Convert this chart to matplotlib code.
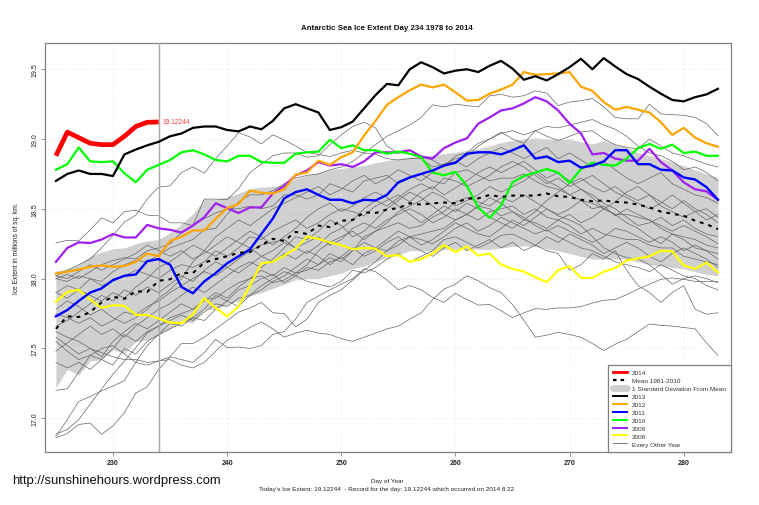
import matplotlib
matplotlib.use('Agg')
import matplotlib.pyplot as plt
from matplotlib.lines import Line2D
import numpy as np

plt.rcParams['font.family'] = ['Liberation Sans', 'DejaVu Sans']

days = np.arange(225, 284)
days_2014 = np.arange(225, 235)

ice_2014 = [18.88, 19.05, 19.01, 18.97, 18.96, 18.96, 19.02, 19.09, 19.12, 19.12244]

ice_2013 = [18.70, 18.75, 18.775, 18.75, 18.75, 18.735, 18.89, 18.925, 18.955, 18.98,
            19.02, 19.04, 19.08, 19.09, 19.09, 19.065, 19.055, 19.09, 19.07, 19.13,
            19.22, 19.25, 19.22, 19.19, 19.065, 19.085, 19.125, 19.22, 19.315, 19.395,
            19.385, 19.50, 19.55, 19.515, 19.47, 19.49, 19.50, 19.48, 19.525, 19.56,
            19.505, 19.425, 19.45, 19.42, 19.465, 19.515, 19.575, 19.50, 19.58, 19.52,
            19.465, 19.43, 19.375, 19.325, 19.28, 19.27, 19.30, 19.32, 19.36]
ice_2012 = [18.036, 18.05, 18.065, 18.085, 18.095, 18.085, 18.09, 18.12, 18.18, 18.16,
            18.27, 18.30, 18.345, 18.345, 18.43, 18.505, 18.535, 18.63, 18.615, 18.61,
            18.64, 18.745, 18.76, 18.845, 18.815, 18.87, 18.905, 19.025, 19.13, 19.245,
            19.30, 19.35, 19.39, 19.37, 19.39, 19.335, 19.275, 19.28, 19.325, 19.355,
            19.39, 19.48, 19.46, 19.465, 19.47, 19.48, 19.375, 19.345, 19.265, 19.21,
            19.23, 19.21, 19.19, 19.12, 19.03, 19.08, 19.01, 18.97, 18.945]
ice_2011 = [17.73, 17.775, 17.84, 17.90, 17.93, 17.99, 18.02, 18.03, 18.125, 18.14,
            18.10, 17.94, 17.895, 17.98, 18.04, 18.11, 18.16, 18.21, 18.32, 18.43,
            18.575, 18.62, 18.64, 18.60, 18.565, 18.565, 18.54, 18.565, 18.56, 18.60,
            18.69, 18.725, 18.75, 18.775, 18.81, 18.83, 18.895, 18.905, 18.905, 18.89,
            18.92, 18.955, 18.86, 18.875, 18.835, 18.845, 18.795, 18.81, 18.84, 18.92,
            18.92, 18.82, 18.82, 18.78, 18.775, 18.725, 18.71, 18.655, 18.565]
ice_2010 = [18.78, 18.82, 18.94, 18.84, 18.835, 18.84, 18.755, 18.69, 18.78, 18.815,
            18.85, 18.905, 18.92, 18.89, 18.85, 18.84, 18.88, 18.88, 18.835, 18.83,
            18.83, 18.895, 18.905, 18.91, 18.995, 18.935, 18.955, 18.92, 18.92, 18.895,
            18.91, 18.895, 18.87, 18.76, 18.74, 18.765, 18.665, 18.51, 18.435, 18.525,
            18.69, 18.735, 18.76, 18.785, 18.76, 18.685, 18.785, 18.83, 18.815, 18.81,
            18.86, 18.935, 18.965, 18.93, 18.96, 18.90, 18.91, 18.88, 18.88]
ice_2009 = [18.12, 18.22, 18.26, 18.255, 18.28, 18.32, 18.295, 18.295, 18.385, 18.36,
            18.35, 18.33, 18.38, 18.44, 18.54, 18.505, 18.47, 18.51, 18.51, 18.61,
            18.665, 18.74, 18.775, 18.835, 18.81, 18.82, 18.80, 18.84, 18.905, 18.905,
            18.905, 18.92, 18.875, 18.86, 18.935, 18.975, 19.005, 19.11, 19.155, 19.205,
            19.22, 19.255, 19.30, 19.27, 19.205, 19.11, 19.04, 18.89, 18.90, 18.86,
            18.845, 18.845, 18.93, 18.835, 18.775, 18.69, 18.64, 18.625, 18.565]
ice_2008 = [17.835, 17.905, 17.92, 17.85, 17.79, 17.81, 17.805, 17.74, 17.74, 17.715,
            17.685, 17.68, 17.745, 17.86, 17.79, 17.73, 17.80, 17.95, 18.11, 18.12,
            18.165, 18.215, 18.30, 18.285, 18.26, 18.24, 18.21, 18.22, 18.215, 18.16,
            18.17, 18.12, 18.14, 18.18, 18.24, 18.19, 18.23, 18.165, 18.18, 18.10,
            18.07, 18.05, 18.01, 17.975, 18.06, 18.09, 18.005, 18.005, 18.05, 18.075,
            18.13, 18.145, 18.16, 18.20, 18.195, 18.095, 18.07, 18.115, 18.045]
mean_ice = [17.64, 17.73, 17.725, 17.76, 17.83, 17.87, 17.855, 17.91, 17.905, 17.985,
            17.995, 18.04, 18.04, 18.115, 18.14, 18.16, 18.185, 18.19, 18.24, 18.285,
            18.27, 18.335, 18.32, 18.38, 18.37, 18.415, 18.42, 18.475, 18.47, 18.495,
            18.505, 18.54, 18.53, 18.54, 18.545, 18.54, 18.575, 18.575, 18.60, 18.585,
            18.595, 18.595, 18.595, 18.61, 18.59, 18.585, 18.565, 18.555, 18.56, 18.55,
            18.545, 18.53, 18.51, 18.48, 18.465, 18.45, 18.415, 18.39, 18.355]
band_upper = [18.055, 18.07, 18.10, 18.16, 18.19, 18.215, 18.22, 18.25, 18.27, 18.28,
              18.33, 18.39, 18.465, 18.57, 18.57, 18.585, 18.61, 18.645, 18.655, 18.66,
              18.67, 18.715, 18.74, 18.76, 18.78, 18.79, 18.80, 18.81, 18.83, 18.845,
              18.86, 18.87, 18.88, 18.885, 18.895, 18.905, 18.92, 18.93, 18.95, 18.975,
              18.99, 19.0, 19.01, 19.0, 19.0, 19.0, 18.98, 18.965, 18.99, 18.96,
              18.94, 18.905, 18.88, 18.86, 18.835, 18.81, 18.78, 18.75, 18.725]
band_lower = [17.22, 17.35, 17.31, 17.41, 17.42, 17.49, 17.465, 17.55, 17.56, 17.595,
              17.64, 17.70, 17.68, 17.78, 17.78, 17.815, 17.84, 17.875, 17.90, 17.93,
              17.96, 17.99, 18.0, 18.0, 18.02, 18.04, 18.07, 18.09, 18.12, 18.15,
              18.17, 18.20, 18.20, 18.20, 18.21, 18.21, 18.21, 18.21, 18.21, 18.22,
              18.23, 18.235, 18.23, 18.215, 18.20, 18.18, 18.16, 18.14, 18.14, 18.14,
              18.14, 18.12, 18.10, 18.09, 18.08, 18.07, 18.05, 18.03, 18.02]

year_a = [18.255, 18.275, 18.27, 18.35, 18.435, 18.40, 18.48, 18.49, 18.455, 18.45,
          18.40, 18.40, 18.38, 18.43, 18.47, 18.50, 18.50, 18.52, 18.50, 18.52,
          18.60, 18.60, 18.57, 18.60, 18.68, 18.65, 18.62, 18.70, 18.72, 18.74,
          18.68, 18.72, 18.75, 18.70, 18.68, 18.76, 18.78, 18.74, 18.70, 18.72,
          18.72, 18.75, 18.70, 18.66, 18.64, 18.60, 18.56, 18.54, 18.50, 18.46,
          18.46, 18.44, 18.42, 18.36, 18.32, 18.30, 18.28, 18.24, 18.22]
year_b = [18.02, 18.06, 18.10, 18.14, 18.22, 18.31, 18.405, 18.455, 18.57, 18.655,
          18.665, 18.76, 18.80, 18.755, 18.86, 18.95, 19.045, 19.015, 18.965, 19.03,
          18.995, 18.95, 18.905, 18.89, 18.875, 18.90, 18.92, 18.90, 18.89, 18.86,
          18.85, 18.86, 18.86, 18.80, 18.82, 18.86, 18.88, 18.95, 19.0, 19.04,
          19.06, 19.03, 19.06, 19.02, 18.99, 19.02, 19.05, 19.06, 19.0, 18.96,
          18.94, 18.93, 19.0, 18.95, 18.9, 18.88, 18.85, 18.82, 18.80]
year_c = [18.0, 18.03, 18.0, 18.05, 18.1, 18.13, 18.15, 18.14, 18.2, 18.22,
          18.25, 18.33, 18.38, 18.57, 18.57, 18.565, 18.645, 18.76, 18.82, 18.88,
          18.90, 18.90, 18.87, 18.88, 18.96, 19.03, 19.09, 19.12, 19.08, 18.95,
          18.90, 18.92, 18.87, 18.85, 18.80, 18.88, 18.90, 18.97, 19.0, 19.05,
          19.0, 18.97, 19.06, 19.09, 19.08, 19.1, 19.12, 19.14, 19.1, 19.07,
          19.02, 18.95, 18.9, 18.88, 18.84, 18.78, 18.8, 18.76, 18.7]
year_d = [17.9, 17.95, 17.92, 18.0, 17.98, 18.05, 18.1, 18.13, 18.12, 18.17,
          18.22, 18.25, 18.28, 18.35, 18.36, 18.46, 18.55, 18.60, 18.60, 18.63,
          18.68, 18.72, 18.74, 18.75, 18.78, 18.80, 18.84, 18.90, 18.96, 19.02,
          19.06, 19.10, 19.155, 19.245, 19.23, 19.25, 19.24, 19.23, 19.31, 19.32,
          19.30, 19.31, 19.345, 19.33, 19.24, 19.265, 19.275, 19.29, 19.23, 19.155,
          19.145, 19.145, 19.25, 19.18, 19.175, 19.17, 19.155, 19.11, 19.025]
year_e = [16.86, 16.89, 16.955, 16.965, 16.885, 16.945, 17.04, 17.18, 17.225, 17.35,
          17.44, 17.535, 17.535, 17.58, 17.64, 17.70, 17.76, 17.79, 17.83, 17.755,
          17.75, 17.655, 17.71, 17.83, 17.88, 17.92, 17.99, 18.06, 18.12, 18.2,
          18.27, 18.3, 18.32, 18.34, 18.36, 18.42, 18.46, 18.52, 18.5, 18.45,
          18.48, 18.42, 18.4, 18.36, 18.42, 18.38, 18.32, 18.36, 18.32, 18.3,
          18.28, 18.28, 18.24, 18.22, 18.22, 18.16, 18.14, 18.12, 18.1]
year_f = [16.87, 16.99, 17.12, 17.155, 17.195, 17.23, 17.27, 17.40, 17.52, 17.60,
          17.64, 17.68, 17.72, 17.78, 17.88, 17.84, 17.92, 17.95, 18.0, 18.03,
          17.97, 18.02, 17.98, 17.96, 17.94, 17.98, 18.06, 18.04, 18.08, 18.14,
          18.18, 18.12, 18.16, 18.2, 18.28, 18.3, 18.26, 18.22, 18.26, 18.31,
          18.32, 18.28, 18.24, 18.2, 18.18, 18.06, 18.1, 18.18, 18.14, 18.2,
          18.06, 17.95, 17.90, 17.83, 17.90, 17.95, 17.78, 17.745, 17.755]
year_g = [16.885, 16.92, 16.99, 17.10, 17.21, 17.315, 17.41, 17.505, 17.61, 17.66,
          17.72, 17.75, 17.78, 17.85, 17.86, 17.92, 17.97, 18.0, 18.02, 17.97,
          17.99, 18.04, 18.06, 18.1, 18.15, 18.12, 18.2, 18.3, 18.34, 18.37,
          18.4, 18.36, 18.38, 18.44, 18.48, 18.55, 18.58, 18.55, 18.52, 18.58,
          18.55, 18.6, 18.55, 18.5, 18.45, 18.42, 18.38, 18.3, 18.22, 18.18,
          18.15, 18.14, 18.1, 18.03, 17.96, 18.0, 18.02, 18.0, 17.97]
year_h = [17.20, 17.21, 17.33, 17.45, 17.42, 17.5, 17.6, 17.55, 17.62, 17.66,
          17.7, 17.74, 17.7, 17.76, 17.82, 17.8, 17.86, 17.88, 17.95, 18.0,
          18.05, 18.02, 18.08, 18.06, 18.12, 18.15, 18.1, 18.18, 18.22, 18.2,
          18.24, 18.3, 18.28, 18.25, 18.3, 18.36, 18.4, 18.34, 18.38, 18.44,
          18.4, 18.36, 18.32, 18.35, 18.3, 18.26, 18.22, 18.2, 18.16, 18.12,
          18.1, 18.08, 18.05, 18.1, 18.06, 18.02, 18.0, 17.95, 17.92]
year_i = [17.55, 17.48, 17.42, 17.45, 17.5, 17.52, 17.46, 17.40, 17.38, 17.41,
          17.44, 17.42, 17.40, 17.47, 17.565, 17.505, 17.51, 17.50, 17.52, 17.60,
          17.62, 17.71, 17.83, 17.875, 17.92, 17.96, 18.0, 18.07, 18.05, 17.99,
          17.92, 17.95, 17.92, 17.865, 17.83, 17.895, 17.85, 17.81, 17.815, 17.77,
          17.72, 17.755, 17.785, 17.78, 17.79, 17.79, 17.80, 17.825, 17.845, 17.85,
          17.885, 17.925, 17.96, 17.995, 18.005, 17.995, 17.98, 17.98, 17.98]
year_j = [17.62, 17.58, 17.55, 17.5, 17.47, 17.44, 17.42, 17.42, 17.40, 17.41,
          17.42, 17.38, 17.36, 17.4, 17.48, 17.56, 17.6, 17.65, 17.69, 17.64,
          17.58, 17.61, 17.63, 17.61, 17.60, 17.57, 17.55, 17.58, 17.61, 17.64,
          17.66, 17.71, 17.755, 17.85, 17.925, 17.96, 18.02, 17.985, 17.935, 17.90,
          17.815, 17.70, 17.58, 17.595, 17.615, 17.60, 17.58, 17.535, 17.485, 17.53,
          17.565, 17.62, 17.675, 17.665, 17.66, 17.65, 17.64, 17.54, 17.45]
year_k = [18.0, 17.98, 18.02, 18.0, 17.95, 17.98, 18.02, 18.06, 18.03, 18.0,
          18.06, 18.1, 18.08, 18.12, 18.2, 18.16, 18.22, 18.3, 18.28, 18.34,
          18.38, 18.42, 18.36, 18.4, 18.46, 18.5, 18.48, 18.45, 18.52, 18.56,
          18.6, 18.55, 18.62, 18.66, 18.6, 18.65, 18.7, 18.76, 18.8, 18.76,
          18.8, 18.84, 18.78, 18.72, 18.76, 18.7, 18.64, 18.58, 18.5, 18.46,
          18.4, 18.36, 18.3, 18.25, 18.32, 18.28, 18.22, 18.2, 18.14]
year_l = [17.75, 17.72, 17.68, 17.72, 17.66, 17.7, 17.76, 17.74, 17.8, 17.84,
          17.9, 17.95, 18.0, 18.05, 18.02, 18.08, 18.14, 18.2, 18.24, 18.26,
          18.28, 18.22, 18.26, 18.3, 18.24, 18.28, 18.36, 18.4, 18.36, 18.42,
          18.46, 18.5, 18.46, 18.4, 18.44, 18.5, 18.46, 18.42, 18.48, 18.5,
          18.52, 18.46, 18.5, 18.44, 18.42, 18.46, 18.4, 18.44, 18.5, 18.55,
          18.62, 18.66, 18.6, 18.55, 18.5, 18.56, 18.5, 18.46, 18.4]
year_m = [17.4, 17.36, 17.4, 17.35, 17.42, 17.38, 17.5, 17.46, 17.55, 17.6,
          17.68, 17.66, 17.72, 17.7, 17.78, 17.84, 17.8, 17.88, 17.92, 17.98,
          18.02, 18.08, 18.14, 18.1, 18.18, 18.14, 18.2, 18.26, 18.22, 18.28,
          18.34, 18.3, 18.24, 18.28, 18.34, 18.4, 18.36, 18.32, 18.3, 18.36,
          18.42, 18.38, 18.44, 18.5, 18.46, 18.5, 18.56, 18.5, 18.52, 18.45,
          18.5, 18.46, 18.42, 18.38, 18.34, 18.38, 18.34, 18.3, 18.25]
year_n = [17.9, 17.86, 17.92, 17.88, 17.84, 17.9, 17.86, 17.94, 18.0, 18.08,
          18.12, 18.18, 18.24, 18.2, 18.3, 18.36, 18.42, 18.38, 18.44, 18.5,
          18.54, 18.58, 18.62, 18.66, 18.6, 18.64, 18.7, 18.74, 18.68, 18.72,
          18.78, 18.74, 18.7, 18.76, 18.82, 18.84, 18.8, 18.86, 18.9, 18.94,
          18.9, 18.86, 18.9, 18.94, 18.86, 18.9, 18.85, 18.8, 18.84, 18.78,
          18.72, 18.68, 18.72, 18.76, 18.68, 18.64, 18.6, 18.58, 18.54]
year_o = [18.02, 18.0, 18.05, 18.1, 18.06, 18.1, 18.14, 18.18, 18.24, 18.2,
          18.16, 18.2, 18.14, 18.18, 18.24, 18.3, 18.26, 18.22, 18.16, 18.12,
          18.18, 18.14, 18.2, 18.16, 18.1, 18.16, 18.22, 18.16, 18.2, 18.26,
          18.3, 18.24, 18.2, 18.16, 18.22, 18.26, 18.2, 18.24, 18.28, 18.22,
          18.26, 18.2, 18.24, 18.3, 18.26, 18.32, 18.28, 18.24, 18.18, 18.22,
          18.26, 18.22, 18.16, 18.12, 18.18, 18.22, 18.18, 18.14, 18.08]
year_p = [17.58, 17.52, 17.46, 17.5, 17.44, 17.55, 17.62, 17.68, 17.64, 17.7,
          17.76, 17.82, 17.78, 17.84, 17.9, 17.86, 17.94, 18.0, 18.06, 18.02,
          18.08, 18.04, 18.1, 18.2, 18.26, 18.3, 18.34, 18.28, 18.34, 18.4,
          18.48, 18.52, 18.56, 18.62, 18.58, 18.52, 18.56, 18.6, 18.66, 18.62,
          18.66, 18.7, 18.76, 18.7, 18.66, 18.6, 18.64, 18.6, 18.54, 18.5,
          18.44, 18.38, 18.4, 18.44, 18.38, 18.42, 18.36, 18.32, 18.3]
year_q = [17.78, 17.84, 17.8, 17.74, 17.78, 17.72, 17.68, 17.72, 17.78, 17.86,
          17.92, 18.0, 18.12, 18.2, 18.16, 18.22, 18.28, 18.34, 18.3, 18.24,
          18.3, 18.36, 18.44, 18.5, 18.54, 18.48, 18.52, 18.58, 18.62, 18.58,
          18.52, 18.46, 18.4, 18.46, 18.52, 18.48, 18.54, 18.5, 18.44, 18.4,
          18.36, 18.42, 18.48, 18.56, 18.62, 18.68, 18.72, 18.66, 18.62, 18.66,
          18.6, 18.56, 18.6, 18.52, 18.48, 18.44, 18.48, 18.42, 18.46]
year_r = [17.48, 17.54, 17.6, 17.66, 17.6, 17.64, 17.58, 17.66, 17.72, 17.78,
          17.82, 17.88, 17.94, 17.9, 17.96, 18.02, 18.08, 18.12, 18.08, 18.14,
          18.22, 18.3, 18.28, 18.34, 18.42, 18.38, 18.3, 18.34, 18.42, 18.5,
          18.56, 18.62, 18.58, 18.52, 18.46, 18.42, 18.46, 18.52, 18.58, 18.54,
          18.48, 18.44, 18.38, 18.34, 18.38, 18.34, 18.3, 18.26, 18.3, 18.36,
          18.34, 18.3, 18.26, 18.3, 18.26, 18.2, 18.24, 18.2, 18.18]
year_s = [17.66, 17.7, 17.76, 17.82, 17.88, 17.84, 17.92, 17.88, 17.94, 17.9,
          17.96, 18.02, 17.98, 18.06, 18.12, 18.08, 18.04, 18.1, 18.16, 18.2,
          18.26, 18.22, 18.18, 18.24, 18.32, 18.36, 18.42, 18.5, 18.56, 18.52,
          18.58, 18.64, 18.68, 18.64, 18.72, 18.7, 18.66, 18.7, 18.74, 18.8,
          18.84, 18.8, 18.74, 18.68, 18.72, 18.66, 18.7, 18.74, 18.68, 18.62,
          18.58, 18.54, 18.5, 18.54, 18.6, 18.54, 18.48, 18.5, 18.44]

other_years = [year_a, year_b, year_c, year_d, year_e, year_f, year_g, year_h, year_i, year_j,
               year_k, year_l, year_m, year_n, year_o, year_p, year_q, year_r, year_s]

xtick_vals = [230, 240, 250, 260, 270, 280]
ytick_vals = [17.0, 17.5, 18.0, 18.5, 19.0, 19.5]

fig = plt.figure(figsize=(7.59, 5.06), dpi=100)
ax = fig.add_axes([44.5 / 759, 1 - 452.7 / 506, 686 / 759, 408.4 / 506])

ax.fill_between(days, band_lower, band_upper, color='#d0d0d0', lw=0, zorder=1)

for v in xtick_vals:
    ax.axvline(v, color='#e8e8e8', lw=0.5, ls=(0, (1.5, 2)), zorder=2)
for v in ytick_vals:
    ax.axhline(v, color='#e8e8e8', lw=0.5, ls=(0, (1.5, 2)), zorder=2)

for vals in other_years:
    ax.plot(days, vals, color='#666666', lw=0.5, zorder=3)

ax.axvline(234, color='#a8a8a8', lw=1.0, zorder=4)

ax.plot(days, ice_2008, color='#ffff00', lw=1.6, zorder=5)
ax.plot(days, ice_2009, color='#a020f0', lw=1.6, zorder=5)
ax.plot(days, ice_2010, color='#00ff00', lw=1.6, zorder=5)
ax.plot(days, ice_2011, color='#0000ff', lw=1.7, zorder=5)
ax.plot(days, ice_2012, color='#ffa500', lw=1.6, zorder=5)
ax.plot(days, ice_2013, color='black', lw=1.6, zorder=5)
ax.plot(days, mean_ice, color='black', lw=1.5, ls=(0, (1.8, 2.4)), zorder=6)
ax.plot(days_2014, ice_2014, color='#ff0000', lw=3.4, zorder=7, solid_capstyle='butt')

ax.text(234.3, ice_2014[-1], '19.12244', color='#ff4040', fontsize=4.8, va='center')

ax.set_xlim(224.0, 284.1)
ax.set_ylim(16.76, 19.686)
ax.set_xticks(xtick_vals)
ax.set_yticks(ytick_vals)
ax.set_yticklabels(['%.1f' % v for v in ytick_vals], rotation=90, va='center')
ax.tick_params(axis='both', labelsize=5, length=3, width=0.6, color='#808080', pad=2.5)
ax.tick_params(axis='y', pad=1)
for lab in ax.get_xticklabels():
    lab.set_fontweight('bold')
    lab.set_color('#222222')
for lab in ax.get_yticklabels():
    lab.set_color('#222222')
for s in ax.spines.values():
    s.set_color('#808080')
    s.set_linewidth(0.9)

handles = [
    Line2D([], [], color='#ff0000', lw=2),
    Line2D([], [], color='black', lw=1.6, ls=(0, (1.6, 1.8))),
    Line2D([], [], color='#d0d0d0', lw=5, solid_capstyle='round'),
    Line2D([], [], color='black', lw=1.4),
    Line2D([], [], color='#ffa500', lw=1.4),
    Line2D([], [], color='#0000ff', lw=1.4),
    Line2D([], [], color='#00ff00', lw=1.4),
    Line2D([], [], color='#a020f0', lw=1.4),
    Line2D([], [], color='#ffff00', lw=1.4),
    Line2D([], [], color='#666666', lw=0.6),
]
labels = ['2014', 'Mean 1981-2010', '1 Standard Deviation From Mean', '2013', '2012',
          '2011', '2010', '2009', '2008', 'Every Other Year']
leg = ax.legend(handles, labels, loc='lower right', bbox_to_anchor=(1, 0), borderaxespad=0,
                fontsize=4.6, labelcolor='#333333', fancybox=False, framealpha=1,
                edgecolor='#808080', handlelength=2.3, labelspacing=0.38, handletextpad=0.65,
                borderpad=0.8)
leg.get_frame().set_linewidth(0.9)
leg.set_zorder(10)

fig.text(387 / 759, 1 - 28.7 / 506, 'Antarctic Sea Ice Extent Day 234 1978 to 2014',
         ha='center', va='center', fontsize=5.7, fontweight='bold', color='#111111')
fig.text(17 / 759, 1 - 248 / 506, 'Ice Extent in millions of sq. km.', rotation=90,
         ha='center', va='center', fontsize=4.8, color='#222222')
fig.text(387 / 759, 1 - 481.7 / 506, 'Day of Year', ha='center', va='center',
         fontsize=4.6, color='#222222')
fig.text(387 / 759, 1 - 489.3 / 506,
         "Today's Ice Extent: 19.12244  - Record for the day: 19.12244 which occurred on 2014 8 22",
         ha='center', va='center', fontsize=4.6, color='#222222')
fig.text(11.7 / 759, 1 - 481 / 506, 'http://sunshinehours.wordpress.com', ha='left', va='center',
         fontsize=9.4, color='#111111')

fig.savefig('out.png', dpi=100)
